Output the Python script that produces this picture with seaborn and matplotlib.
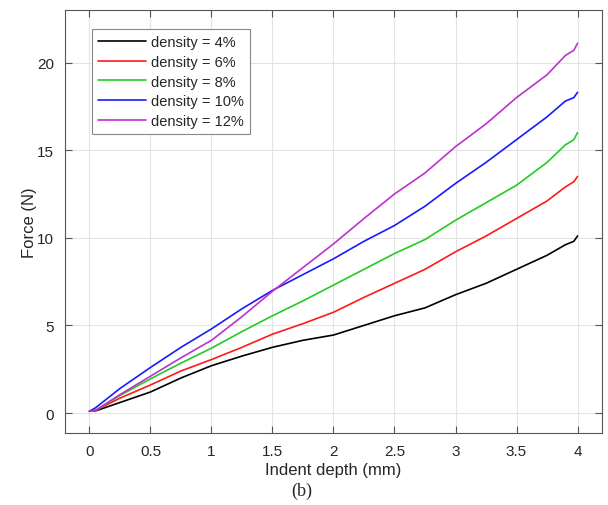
import matplotlib
matplotlib.use("Agg")
import matplotlib.pyplot as plt
import seaborn as sns
import pandas as pd

# Indentation depth samples (mm)
depth = [0, 0.05, 0.25, 0.5, 0.75, 1.0, 1.25, 1.5, 1.75, 2.0, 2.25, 2.5,
         2.75, 3.0, 3.25, 3.5, 3.75, 3.9, 3.97, 4.0]

# Measured force (N) for each infill density
force_4 = [0.1, 0.12, 0.6, 1.2, 2.0, 2.7, 3.25, 3.75, 4.15, 4.45, 5.0, 5.55,
           6.0, 6.75, 7.4, 8.2, 9.0, 9.6, 9.8, 10.1]
force_6 = [0.1, 0.15, 0.85, 1.6, 2.4, 3.05, 3.75, 4.5, 5.1, 5.75, 6.6, 7.4,
           8.2, 9.2, 10.1, 11.1, 12.1, 12.9, 13.2, 13.5]
force_8 = [0.1, 0.15, 1.0, 1.95, 2.85, 3.7, 4.65, 5.55, 6.4, 7.3, 8.2, 9.1,
           9.9, 11.0, 12.0, 13.0, 14.3, 15.3, 15.6, 16.0]
force_10 = [0.1, 0.3, 1.4, 2.6, 3.75, 4.8, 5.95, 7.0, 7.9, 8.8, 9.8, 10.7,
            11.8, 13.1, 14.3, 15.6, 16.9, 17.8, 18.0, 18.3]
force_12 = [0.1, 0.15, 1.05, 2.1, 3.15, 4.15, 5.5, 6.95, 8.3, 9.65, 11.1, 12.5,
            13.7, 15.2, 16.5, 18.0, 19.3, 20.4, 20.7, 21.1]

labels = ["density = 4%", "density = 6%", "density = 8%",
          "density = 10%", "density = 12%"]
colors = ["#000000", "#ff1a1a", "#22cc22", "#1a1aff", "#bb33cc"]

xticks = [0, 0.5, 1, 1.5, 2, 2.5, 3, 3.5, 4]
xticklabels = ["0", "0.5", "1", "1.5", "2", "2.5", "3", "3.5", "4"]
yticks = [0, 5, 10, 15, 20]

frames = []
for lab, f in zip(labels, [force_4, force_6, force_8, force_10, force_12]):
    frames.append(pd.DataFrame({"depth": depth, "force": f, "series": lab}))
df = pd.concat(frames, ignore_index=True)

sns.set_theme(style="ticks")
plt.rcParams["font.family"] = ["Liberation Sans", "DejaVu Sans"]

fig = plt.figure(figsize=(6.08, 5.06), dpi=100)
ax = fig.add_axes([0.107, 0.1423, 0.883, 0.836])

sns.lineplot(data=df, x="depth", y="force", hue="series", hue_order=labels,
             palette=colors, estimator=None, sort=False, linewidth=1.2, ax=ax)

ax.set_xlim(-0.2, 4.2)
ax.set_ylim(-1.14, 23)
ax.set_xticks(xticks)
ax.set_xticklabels(xticklabels)
ax.set_yticks(yticks)
ax.grid(True, color="#e3e3e3", linewidth=0.8)
ax.set_axisbelow(True)

for sp in ax.spines.values():
    sp.set_visible(True)
    sp.set_color("#555555")
    sp.set_linewidth(0.8)
ax.tick_params(direction="in", length=5, width=0.8, color="#555555",
               top=True, right=True, labelsize=11, labelcolor="#262626", pad=8)

ax.set_xlabel("Indent depth (mm)", fontsize=12, color="#262626", labelpad=3)
ax.set_ylabel("Force (N)", fontsize=12, color="#262626", labelpad=0)

leg = ax.legend(loc="upper left", bbox_to_anchor=(0.05, 0.955),
                borderaxespad=0, fontsize=10.5,
                handlelength=3.3, handletextpad=0.35, labelspacing=0.4,
                borderpad=0.4, fancybox=False, framealpha=1,
                edgecolor="#888888")
leg.get_frame().set_linewidth(0.8)
for t in leg.get_texts():
    t.set_color("#262626")

fig.text(0.497, 0.028, "(b)", fontsize=13, family=["Liberation Serif"],
         ha="center", va="center", color="#262626")

fig.savefig("out.png", dpi=100)
